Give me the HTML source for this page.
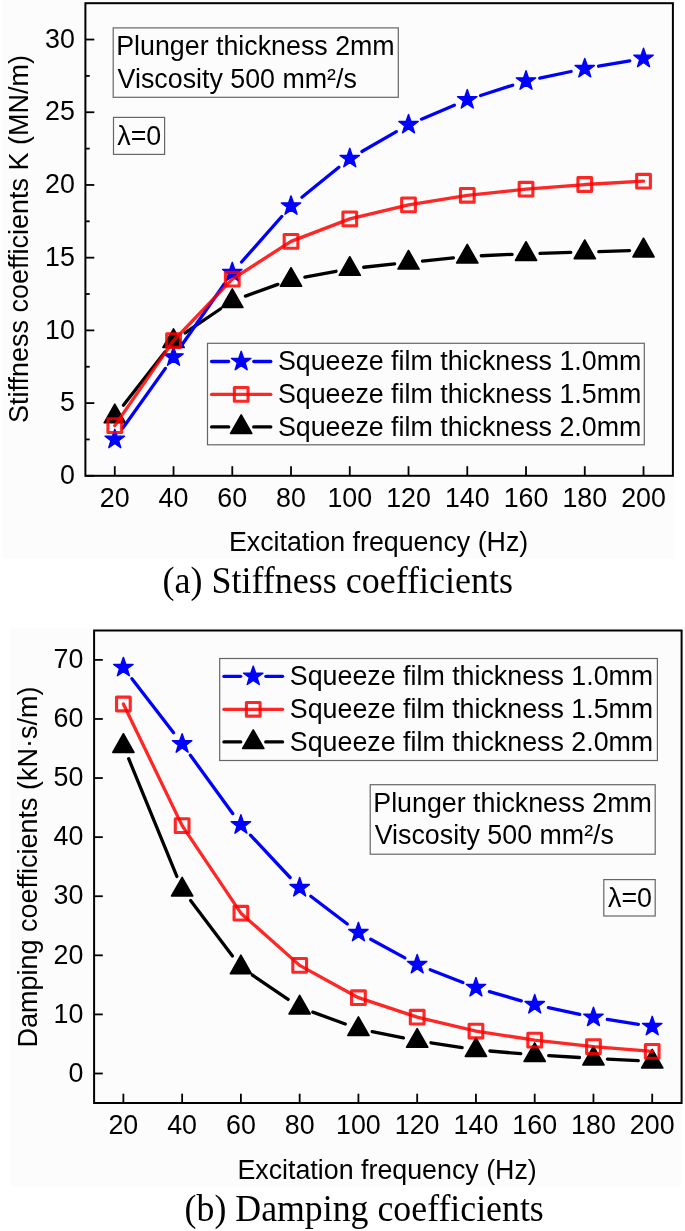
<!DOCTYPE html>
<html><head><meta charset="utf-8"><title>Stiffness and damping coefficients</title>
<style>html,body{margin:0;padding:0;background:#fff;}svg{display:block;will-change:transform;}</style></head>
<body><svg width="685" height="1231" viewBox="0 0 685 1231">
<rect x="0" y="0" width="685" height="1231" fill="#ffffff"/>
<rect x="2" y="0" width="672" height="558.5" fill="#fcfcfc"/>
<rect x="10" y="628.5" width="671.5" height="557.5" fill="#fcfcfc"/>
<g stroke="#000000" stroke-width="3.3" stroke-linecap="round"><line x1="123.38" y1="405.14" x2="164.92" y2="351.89"/><line x1="185.10" y1="332.97" x2="220.70" y2="308.74"/><line x1="245.44" y1="296.10" x2="277.86" y2="284.39"/><line x1="304.79" y1="277.07" x2="336.01" y2="271.28"/><line x1="363.70" y1="267.24" x2="394.60" y2="263.95"/><line x1="422.45" y1="261.02" x2="453.35" y2="257.81"/><line x1="481.26" y1="255.74" x2="512.04" y2="254.37"/><line x1="540.02" y1="253.33" x2="570.78" y2="252.41"/><line x1="598.77" y1="251.58" x2="629.53" y2="250.67"/></g>
<polygon points="114.78,404.18 125.38,422.78 104.18,422.78" fill="#000000" stroke="#000000" stroke-width="1.6" stroke-linejoin="round"/>
<polygon points="173.53,328.85 184.12,347.45 162.93,347.45" fill="#000000" stroke="#000000" stroke-width="1.6" stroke-linejoin="round"/>
<polygon points="232.28,288.86 242.88,307.46 221.68,307.46" fill="#000000" stroke="#000000" stroke-width="1.6" stroke-linejoin="round"/>
<polygon points="291.02,267.63 301.62,286.23 280.42,286.23" fill="#000000" stroke="#000000" stroke-width="1.6" stroke-linejoin="round"/>
<polygon points="349.77,256.72 360.38,275.32 339.17,275.32" fill="#000000" stroke="#000000" stroke-width="1.6" stroke-linejoin="round"/>
<polygon points="408.52,250.47 419.12,269.07 397.92,269.07" fill="#000000" stroke="#000000" stroke-width="1.6" stroke-linejoin="round"/>
<polygon points="467.27,244.36 477.88,262.96 456.67,262.96" fill="#000000" stroke="#000000" stroke-width="1.6" stroke-linejoin="round"/>
<polygon points="526.02,241.74 536.62,260.34 515.42,260.34" fill="#000000" stroke="#000000" stroke-width="1.6" stroke-linejoin="round"/>
<polygon points="584.77,240.00 595.38,258.60 574.17,258.60" fill="#000000" stroke="#000000" stroke-width="1.6" stroke-linejoin="round"/>
<polygon points="643.52,238.25 654.12,256.85 632.92,256.85" fill="#000000" stroke="#000000" stroke-width="1.6" stroke-linejoin="round"/>
<g stroke="#0000ff" stroke-width="3.3" stroke-linecap="round"><line x1="122.90" y1="428.04" x2="165.40" y2="368.39"/><line x1="181.52" y1="345.50" x2="224.28" y2="284.00"/><line x1="241.55" y1="262.01" x2="281.75" y2="216.53"/><line x1="301.91" y1="197.24" x2="338.89" y2="167.30"/><line x1="361.90" y1="151.50" x2="396.40" y2="131.61"/><line x1="421.42" y1="119.15" x2="454.38" y2="105.20"/><line x1="480.61" y1="95.49" x2="512.69" y2="85.24"/><line x1="539.73" y1="78.10" x2="571.07" y2="71.51"/><line x1="598.57" y1="66.23" x2="629.73" y2="60.83"/></g>
<polygon points="114.78,429.25 117.17,436.14 124.48,436.29 118.66,440.71 120.77,447.70 114.78,443.52 108.78,447.70 110.89,440.71 105.07,436.29 112.38,436.14" fill="#0000ff" stroke="#0000ff" stroke-width="1.4" stroke-linejoin="round"/>
<polygon points="173.53,346.79 175.92,353.69 183.23,353.84 177.41,358.25 179.52,365.24 173.53,361.07 167.53,365.24 169.64,358.25 163.82,353.84 171.13,353.69" fill="#0000ff" stroke="#0000ff" stroke-width="1.4" stroke-linejoin="round"/>
<polygon points="232.28,262.30 234.67,269.20 241.98,269.35 236.16,273.76 238.27,280.75 232.28,276.58 226.28,280.75 228.39,273.76 222.57,269.35 229.88,269.20" fill="#0000ff" stroke="#0000ff" stroke-width="1.4" stroke-linejoin="round"/>
<polygon points="291.02,195.85 293.42,202.75 300.73,202.89 294.91,207.31 297.02,214.30 291.02,210.13 285.03,214.30 287.14,207.31 281.32,202.89 288.63,202.75" fill="#0000ff" stroke="#0000ff" stroke-width="1.4" stroke-linejoin="round"/>
<polygon points="349.77,148.29 352.17,155.19 359.48,155.34 353.66,159.75 355.77,166.75 349.77,162.57 343.78,166.75 345.89,159.75 340.07,155.34 347.38,155.19" fill="#0000ff" stroke="#0000ff" stroke-width="1.4" stroke-linejoin="round"/>
<polygon points="408.52,114.41 410.92,121.31 418.23,121.46 412.41,125.87 414.52,132.86 408.52,128.69 402.53,132.86 404.64,125.87 398.82,121.46 406.13,121.31" fill="#0000ff" stroke="#0000ff" stroke-width="1.4" stroke-linejoin="round"/>
<polygon points="467.27,89.54 469.67,96.44 476.98,96.59 471.16,101.00 473.27,108.00 467.27,103.82 461.28,108.00 463.39,101.00 457.57,96.59 464.88,96.44" fill="#0000ff" stroke="#0000ff" stroke-width="1.4" stroke-linejoin="round"/>
<polygon points="526.02,70.78 528.42,77.68 535.73,77.83 529.91,82.25 532.02,89.24 526.02,85.06 520.03,89.24 522.14,82.25 516.32,77.83 523.63,77.68" fill="#0000ff" stroke="#0000ff" stroke-width="1.4" stroke-linejoin="round"/>
<polygon points="584.77,58.42 587.17,65.32 594.48,65.47 588.66,69.88 590.77,76.88 584.77,72.70 578.78,76.88 580.89,69.88 575.07,65.47 582.38,65.32" fill="#0000ff" stroke="#0000ff" stroke-width="1.4" stroke-linejoin="round"/>
<polygon points="643.52,48.24 645.92,55.14 653.23,55.29 647.41,59.71 649.52,66.70 643.52,62.52 637.53,66.70 639.64,59.71 633.82,55.29 641.13,55.14" fill="#0000ff" stroke="#0000ff" stroke-width="1.4" stroke-linejoin="round"/>
<polyline points="114.78,425.63 173.53,340.56 232.28,279.19 291.02,241.38 349.77,218.84 408.52,204.88 467.27,195.28 526.02,189.18 584.77,184.52 643.52,181.18" fill="none" stroke="#ff0000" stroke-opacity="0.85" stroke-width="3.3" stroke-linejoin="round" stroke-linecap="round"/>
<rect x="107.93" y="418.78" width="13.70" height="13.70" fill="none" stroke="#ff0000" stroke-opacity="0.85" stroke-width="3.1" stroke-linejoin="round"/>
<rect x="166.68" y="333.71" width="13.70" height="13.70" fill="none" stroke="#ff0000" stroke-opacity="0.85" stroke-width="3.1" stroke-linejoin="round"/>
<rect x="225.43" y="272.34" width="13.70" height="13.70" fill="none" stroke="#ff0000" stroke-opacity="0.85" stroke-width="3.1" stroke-linejoin="round"/>
<rect x="284.17" y="234.53" width="13.70" height="13.70" fill="none" stroke="#ff0000" stroke-opacity="0.85" stroke-width="3.1" stroke-linejoin="round"/>
<rect x="342.92" y="211.99" width="13.70" height="13.70" fill="none" stroke="#ff0000" stroke-opacity="0.85" stroke-width="3.1" stroke-linejoin="round"/>
<rect x="401.67" y="198.03" width="13.70" height="13.70" fill="none" stroke="#ff0000" stroke-opacity="0.85" stroke-width="3.1" stroke-linejoin="round"/>
<rect x="460.42" y="188.43" width="13.70" height="13.70" fill="none" stroke="#ff0000" stroke-opacity="0.85" stroke-width="3.1" stroke-linejoin="round"/>
<rect x="519.17" y="182.33" width="13.70" height="13.70" fill="none" stroke="#ff0000" stroke-opacity="0.85" stroke-width="3.1" stroke-linejoin="round"/>
<rect x="577.92" y="177.67" width="13.70" height="13.70" fill="none" stroke="#ff0000" stroke-opacity="0.85" stroke-width="3.1" stroke-linejoin="round"/>
<rect x="636.67" y="174.33" width="13.70" height="13.70" fill="none" stroke="#ff0000" stroke-opacity="0.85" stroke-width="3.1" stroke-linejoin="round"/>
<rect x="85.4" y="3.2" width="587.50" height="472.60" fill="none" stroke="#000" stroke-width="2"/>
<g stroke="#000" stroke-width="1.8"><line x1="85.4" y1="475.80" x2="94.30000000000001" y2="475.80"/><line x1="85.4" y1="403.09" x2="94.30000000000001" y2="403.09"/><line x1="85.4" y1="330.38" x2="94.30000000000001" y2="330.38"/><line x1="85.4" y1="257.67" x2="94.30000000000001" y2="257.67"/><line x1="85.4" y1="184.96" x2="94.30000000000001" y2="184.96"/><line x1="85.4" y1="112.25" x2="94.30000000000001" y2="112.25"/><line x1="85.4" y1="39.54" x2="94.30000000000001" y2="39.54"/><line x1="85.4" y1="439.44" x2="89.7" y2="439.44"/><line x1="85.4" y1="366.74" x2="89.7" y2="366.74"/><line x1="85.4" y1="294.02" x2="89.7" y2="294.02"/><line x1="85.4" y1="221.32" x2="89.7" y2="221.32"/><line x1="85.4" y1="148.61" x2="89.7" y2="148.61"/><line x1="85.4" y1="75.90" x2="89.7" y2="75.90"/><line x1="114.78" y1="475.8" x2="114.78" y2="466.2"/><line x1="173.53" y1="475.8" x2="173.53" y2="466.2"/><line x1="232.28" y1="475.8" x2="232.28" y2="466.2"/><line x1="291.02" y1="475.8" x2="291.02" y2="466.2"/><line x1="349.77" y1="475.8" x2="349.77" y2="466.2"/><line x1="408.52" y1="475.8" x2="408.52" y2="466.2"/><line x1="467.27" y1="475.8" x2="467.27" y2="466.2"/><line x1="526.02" y1="475.8" x2="526.02" y2="466.2"/><line x1="584.77" y1="475.8" x2="584.77" y2="466.2"/><line x1="643.52" y1="475.8" x2="643.52" y2="466.2"/></g>
<text x="74.80" y="484.00" font-family='"Liberation Sans", sans-serif' font-size="26.8" text-anchor="end" >0</text>
<text x="74.80" y="411.29" font-family='"Liberation Sans", sans-serif' font-size="26.8" text-anchor="end" >5</text>
<text x="74.80" y="338.58" font-family='"Liberation Sans", sans-serif' font-size="26.8" text-anchor="end" >10</text>
<text x="74.80" y="265.87" font-family='"Liberation Sans", sans-serif' font-size="26.8" text-anchor="end" >15</text>
<text x="74.80" y="193.16" font-family='"Liberation Sans", sans-serif' font-size="26.8" text-anchor="end" >20</text>
<text x="74.80" y="120.45" font-family='"Liberation Sans", sans-serif' font-size="26.8" text-anchor="end" >25</text>
<text x="74.80" y="47.74" font-family='"Liberation Sans", sans-serif' font-size="26.8" text-anchor="end" >30</text>
<text x="114.78" y="507.20" font-family='"Liberation Sans", sans-serif' font-size="26.8" text-anchor="middle" >20</text>
<text x="173.53" y="507.20" font-family='"Liberation Sans", sans-serif' font-size="26.8" text-anchor="middle" >40</text>
<text x="232.28" y="507.20" font-family='"Liberation Sans", sans-serif' font-size="26.8" text-anchor="middle" >60</text>
<text x="291.02" y="507.20" font-family='"Liberation Sans", sans-serif' font-size="26.8" text-anchor="middle" >80</text>
<text x="349.77" y="507.20" font-family='"Liberation Sans", sans-serif' font-size="26.8" text-anchor="middle" >100</text>
<text x="408.52" y="507.20" font-family='"Liberation Sans", sans-serif' font-size="26.8" text-anchor="middle" >120</text>
<text x="467.27" y="507.20" font-family='"Liberation Sans", sans-serif' font-size="26.8" text-anchor="middle" >140</text>
<text x="526.02" y="507.20" font-family='"Liberation Sans", sans-serif' font-size="26.8" text-anchor="middle" >160</text>
<text x="584.77" y="507.20" font-family='"Liberation Sans", sans-serif' font-size="26.8" text-anchor="middle" >180</text>
<text x="643.52" y="507.20" font-family='"Liberation Sans", sans-serif' font-size="26.8" text-anchor="middle" >200</text>
<rect x="113.2" y="27.9" width="285.10" height="69.40" fill="none" stroke="#666666" stroke-width="1.2"/>
<text x="116.20" y="55.20" font-family='"Liberation Sans", sans-serif' font-size="26.8" text-anchor="start" >Plunger thickness 2mm</text>
<text x="117.60" y="87.90" font-family='"Liberation Sans", sans-serif' font-size="26.8" text-anchor="start" >Viscosity 500 mm²/s</text>
<rect x="113.5" y="117.4" width="51.10" height="37.00" fill="none" stroke="#666666" stroke-width="1.2"/>
<text x="117.30" y="144.70" font-family='"Liberation Sans", sans-serif' font-size="26.8" text-anchor="start" >λ=0</text>
<rect x="207.5" y="343.3" width="436.80" height="101.50" fill="none" stroke="#666666" stroke-width="1.2"/>
<g stroke="#0000ff" stroke-width="3.3" stroke-linecap="round"><line x1="211.6" y1="361.5" x2="228.60" y2="361.5"/><line x1="253.80" y1="361.5" x2="270.8" y2="361.5"/></g>
<polygon points="241.20,351.30 243.60,358.20 250.90,358.35 245.08,362.76 247.20,369.75 241.20,365.58 235.20,369.75 237.32,362.76 231.50,358.35 238.80,358.20" fill="#0000ff" stroke="#0000ff" stroke-width="1.4" stroke-linejoin="round"/>
<line x1="211.6" y1="394.4" x2="270.8" y2="394.4" stroke="#ff0000" stroke-opacity="0.85" stroke-width="3.3" stroke-linecap="round"/>
<rect x="234.35" y="387.55" width="13.70" height="13.70" fill="none" stroke="#ff0000" stroke-opacity="0.85" stroke-width="3.1" stroke-linejoin="round"/>
<g stroke="#000000" stroke-width="3.3" stroke-linecap="round"><line x1="211.6" y1="426.9" x2="228.70" y2="426.9"/><line x1="253.70" y1="426.9" x2="270.8" y2="426.9"/></g>
<polygon points="241.20,414.90 251.80,433.50 230.60,433.50" fill="#000000" stroke="#000000" stroke-width="1.6" stroke-linejoin="round"/>
<text x="277.90" y="370.30" font-family='"Liberation Sans", sans-serif' font-size="26.8" text-anchor="start" >Squeeze film thickness 1.0mm</text>
<text x="277.90" y="403.20" font-family='"Liberation Sans", sans-serif' font-size="26.8" text-anchor="start" >Squeeze film thickness 1.5mm</text>
<text x="277.90" y="435.70" font-family='"Liberation Sans", sans-serif' font-size="26.8" text-anchor="start" >Squeeze film thickness 2.0mm</text>
<text x="228.90" y="551.30" font-family='"Liberation Sans", sans-serif' font-size="26.8" text-anchor="start" >Excitation frequency (Hz)</text>
<text x="28.00" y="239.00" font-family='"Liberation Sans", sans-serif' font-size="27" text-anchor="middle" transform="rotate(-90 28.0 239)">Stiffness coefficients K (MN/m)</text>
<text x="0.00" y="0.00" font-family='"Liberation Serif", serif' font-size="36" text-anchor="start" transform="translate(162.6 592.5) scale(1 1.045)">(a) Stiffness coefficients</text>
<g stroke="#000000" stroke-width="3.3" stroke-linecap="round"><line x1="128.68" y1="758.69" x2="176.84" y2="876.42"/><line x1="190.58" y1="900.55" x2="232.46" y2="956.02"/><line x1="252.46" y1="975.09" x2="288.10" y2="999.42"/><line x1="312.81" y1="1012.13" x2="345.27" y2="1024.02"/><line x1="372.15" y1="1031.58" x2="403.45" y2="1037.84"/><line x1="431.01" y1="1042.76" x2="462.11" y2="1047.64"/><line x1="489.89" y1="1051.01" x2="520.75" y2="1053.68"/><line x1="548.68" y1="1055.70" x2="579.48" y2="1057.50"/><line x1="607.44" y1="1059.04" x2="638.24" y2="1060.66"/></g>
<polygon points="123.38,733.73 133.98,752.33 112.78,752.33" fill="#000000" stroke="#000000" stroke-width="1.6" stroke-linejoin="round"/>
<polygon points="182.14,877.38 192.74,895.98 171.54,895.98" fill="#000000" stroke="#000000" stroke-width="1.6" stroke-linejoin="round"/>
<polygon points="240.90,955.20 251.50,973.80 230.30,973.80" fill="#000000" stroke="#000000" stroke-width="1.6" stroke-linejoin="round"/>
<polygon points="299.66,995.32 310.26,1013.92 289.06,1013.92" fill="#000000" stroke="#000000" stroke-width="1.6" stroke-linejoin="round"/>
<polygon points="358.42,1016.83 369.02,1035.43 347.82,1035.43" fill="#000000" stroke="#000000" stroke-width="1.6" stroke-linejoin="round"/>
<polygon points="417.18,1028.59 427.78,1047.19 406.58,1047.19" fill="#000000" stroke="#000000" stroke-width="1.6" stroke-linejoin="round"/>
<polygon points="475.94,1037.80 486.54,1056.40 465.34,1056.40" fill="#000000" stroke="#000000" stroke-width="1.6" stroke-linejoin="round"/>
<polygon points="534.70,1042.89 545.30,1061.49 524.10,1061.49" fill="#000000" stroke="#000000" stroke-width="1.6" stroke-linejoin="round"/>
<polygon points="593.46,1046.31 604.06,1064.91 582.86,1064.91" fill="#000000" stroke="#000000" stroke-width="1.6" stroke-linejoin="round"/>
<polygon points="652.22,1049.39 662.82,1067.99 641.62,1067.99" fill="#000000" stroke="#000000" stroke-width="1.6" stroke-linejoin="round"/>
<g stroke="#0000ff" stroke-width="3.3" stroke-linecap="round"><line x1="131.92" y1="678.65" x2="173.60" y2="732.80"/><line x1="190.36" y1="755.23" x2="232.68" y2="813.58"/><line x1="250.46" y1="835.13" x2="290.10" y2="877.50"/><line x1="310.79" y1="896.21" x2="347.29" y2="924.02"/><line x1="370.71" y1="939.22" x2="404.89" y2="957.89"/><line x1="430.21" y1="969.72" x2="462.91" y2="982.58"/><line x1="489.39" y1="991.60" x2="521.25" y2="1000.82"/><line x1="548.39" y1="1007.65" x2="579.77" y2="1014.37"/><line x1="607.29" y1="1019.48" x2="638.39" y2="1024.35"/></g>
<polygon points="123.38,657.35 125.78,664.25 133.08,664.40 127.26,668.81 129.38,675.80 123.38,671.63 117.38,675.80 119.50,668.81 113.68,664.40 120.98,664.25" fill="#0000ff" stroke="#0000ff" stroke-width="1.4" stroke-linejoin="round"/>
<polygon points="182.14,733.70 184.54,740.60 191.84,740.74 186.02,745.16 188.14,752.15 182.14,747.98 176.14,752.15 178.26,745.16 172.44,740.74 179.74,740.60" fill="#0000ff" stroke="#0000ff" stroke-width="1.4" stroke-linejoin="round"/>
<polygon points="240.90,814.71 243.30,821.61 250.60,821.76 244.78,826.17 246.90,833.16 240.90,828.99 234.90,833.16 237.02,826.17 231.20,821.76 238.50,821.61" fill="#0000ff" stroke="#0000ff" stroke-width="1.4" stroke-linejoin="round"/>
<polygon points="299.66,877.52 302.06,884.42 309.36,884.57 303.54,888.98 305.66,895.97 299.66,891.80 293.66,895.97 295.78,888.98 289.96,884.57 297.26,884.42" fill="#0000ff" stroke="#0000ff" stroke-width="1.4" stroke-linejoin="round"/>
<polygon points="358.42,922.31 360.82,929.21 368.12,929.36 362.30,933.77 364.42,940.76 358.42,936.59 352.42,940.76 354.54,933.77 348.72,929.36 356.02,929.21" fill="#0000ff" stroke="#0000ff" stroke-width="1.4" stroke-linejoin="round"/>
<polygon points="417.18,954.40 419.58,961.30 426.88,961.45 421.06,965.86 423.18,972.85 417.18,968.68 411.18,972.85 413.30,965.86 407.48,961.45 414.78,961.30" fill="#0000ff" stroke="#0000ff" stroke-width="1.4" stroke-linejoin="round"/>
<polygon points="475.94,977.50 478.34,984.40 485.64,984.55 479.82,988.96 481.94,995.95 475.94,991.78 469.94,995.95 472.06,988.96 466.24,984.55 473.54,984.40" fill="#0000ff" stroke="#0000ff" stroke-width="1.4" stroke-linejoin="round"/>
<polygon points="534.70,994.52 537.10,1001.42 544.40,1001.57 538.58,1005.98 540.70,1012.97 534.70,1008.80 528.70,1012.97 530.82,1005.98 525.00,1001.57 532.30,1001.42" fill="#0000ff" stroke="#0000ff" stroke-width="1.4" stroke-linejoin="round"/>
<polygon points="593.46,1007.11 595.86,1014.00 603.16,1014.15 597.34,1018.57 599.46,1025.56 593.46,1021.39 587.46,1025.56 589.58,1018.57 583.76,1014.15 591.06,1014.00" fill="#0000ff" stroke="#0000ff" stroke-width="1.4" stroke-linejoin="round"/>
<polygon points="652.22,1016.32 654.62,1023.22 661.92,1023.37 656.10,1027.78 658.22,1034.78 652.22,1030.60 646.22,1034.78 648.34,1027.78 642.52,1023.37 649.82,1023.22" fill="#0000ff" stroke="#0000ff" stroke-width="1.4" stroke-linejoin="round"/>
<polyline points="123.38,704.01 182.14,825.62 240.90,913.19 299.66,965.37 358.42,997.69 417.18,1017.19 475.94,1031.07 534.70,1040.11 593.46,1046.67 652.22,1051.40" fill="none" stroke="#ff0000" stroke-opacity="0.85" stroke-width="3.3" stroke-linejoin="round" stroke-linecap="round"/>
<rect x="116.53" y="697.16" width="13.70" height="13.70" fill="none" stroke="#ff0000" stroke-opacity="0.85" stroke-width="3.1" stroke-linejoin="round"/>
<rect x="175.29" y="818.77" width="13.70" height="13.70" fill="none" stroke="#ff0000" stroke-opacity="0.85" stroke-width="3.1" stroke-linejoin="round"/>
<rect x="234.05" y="906.34" width="13.70" height="13.70" fill="none" stroke="#ff0000" stroke-opacity="0.85" stroke-width="3.1" stroke-linejoin="round"/>
<rect x="292.81" y="958.52" width="13.70" height="13.70" fill="none" stroke="#ff0000" stroke-opacity="0.85" stroke-width="3.1" stroke-linejoin="round"/>
<rect x="351.57" y="990.84" width="13.70" height="13.70" fill="none" stroke="#ff0000" stroke-opacity="0.85" stroke-width="3.1" stroke-linejoin="round"/>
<rect x="410.33" y="1010.34" width="13.70" height="13.70" fill="none" stroke="#ff0000" stroke-opacity="0.85" stroke-width="3.1" stroke-linejoin="round"/>
<rect x="469.09" y="1024.22" width="13.70" height="13.70" fill="none" stroke="#ff0000" stroke-opacity="0.85" stroke-width="3.1" stroke-linejoin="round"/>
<rect x="527.85" y="1033.26" width="13.70" height="13.70" fill="none" stroke="#ff0000" stroke-opacity="0.85" stroke-width="3.1" stroke-linejoin="round"/>
<rect x="586.61" y="1039.82" width="13.70" height="13.70" fill="none" stroke="#ff0000" stroke-opacity="0.85" stroke-width="3.1" stroke-linejoin="round"/>
<rect x="645.37" y="1044.55" width="13.70" height="13.70" fill="none" stroke="#ff0000" stroke-opacity="0.85" stroke-width="3.1" stroke-linejoin="round"/>
<rect x="94.1" y="630.5" width="587.50" height="472.50" fill="none" stroke="#000" stroke-width="2"/>
<g stroke="#000" stroke-width="1.8"><line x1="94.1" y1="1073.50" x2="102.8" y2="1073.50"/><line x1="94.1" y1="1014.41" x2="102.8" y2="1014.41"/><line x1="94.1" y1="955.32" x2="102.8" y2="955.32"/><line x1="94.1" y1="896.23" x2="102.8" y2="896.23"/><line x1="94.1" y1="837.14" x2="102.8" y2="837.14"/><line x1="94.1" y1="778.05" x2="102.8" y2="778.05"/><line x1="94.1" y1="718.96" x2="102.8" y2="718.96"/><line x1="94.1" y1="659.87" x2="102.8" y2="659.87"/><line x1="123.38" y1="1103.0" x2="123.38" y2="1093.7"/><line x1="182.14" y1="1103.0" x2="182.14" y2="1093.7"/><line x1="240.90" y1="1103.0" x2="240.90" y2="1093.7"/><line x1="299.66" y1="1103.0" x2="299.66" y2="1093.7"/><line x1="358.42" y1="1103.0" x2="358.42" y2="1093.7"/><line x1="417.18" y1="1103.0" x2="417.18" y2="1093.7"/><line x1="475.94" y1="1103.0" x2="475.94" y2="1093.7"/><line x1="534.70" y1="1103.0" x2="534.70" y2="1093.7"/><line x1="593.46" y1="1103.0" x2="593.46" y2="1093.7"/><line x1="652.22" y1="1103.0" x2="652.22" y2="1093.7"/></g>
<text x="83.40" y="1081.70" font-family='"Liberation Sans", sans-serif' font-size="26.8" text-anchor="end" >0</text>
<text x="83.40" y="1022.61" font-family='"Liberation Sans", sans-serif' font-size="26.8" text-anchor="end" >10</text>
<text x="83.40" y="963.52" font-family='"Liberation Sans", sans-serif' font-size="26.8" text-anchor="end" >20</text>
<text x="83.40" y="904.43" font-family='"Liberation Sans", sans-serif' font-size="26.8" text-anchor="end" >30</text>
<text x="83.40" y="845.34" font-family='"Liberation Sans", sans-serif' font-size="26.8" text-anchor="end" >40</text>
<text x="83.40" y="786.25" font-family='"Liberation Sans", sans-serif' font-size="26.8" text-anchor="end" >50</text>
<text x="83.40" y="727.16" font-family='"Liberation Sans", sans-serif' font-size="26.8" text-anchor="end" >60</text>
<text x="83.40" y="668.07" font-family='"Liberation Sans", sans-serif' font-size="26.8" text-anchor="end" >70</text>
<text x="123.38" y="1134.00" font-family='"Liberation Sans", sans-serif' font-size="26.8" text-anchor="middle" >20</text>
<text x="182.14" y="1134.00" font-family='"Liberation Sans", sans-serif' font-size="26.8" text-anchor="middle" >40</text>
<text x="240.90" y="1134.00" font-family='"Liberation Sans", sans-serif' font-size="26.8" text-anchor="middle" >60</text>
<text x="299.66" y="1134.00" font-family='"Liberation Sans", sans-serif' font-size="26.8" text-anchor="middle" >80</text>
<text x="358.42" y="1134.00" font-family='"Liberation Sans", sans-serif' font-size="26.8" text-anchor="middle" >100</text>
<text x="417.18" y="1134.00" font-family='"Liberation Sans", sans-serif' font-size="26.8" text-anchor="middle" >120</text>
<text x="475.94" y="1134.00" font-family='"Liberation Sans", sans-serif' font-size="26.8" text-anchor="middle" >140</text>
<text x="534.70" y="1134.00" font-family='"Liberation Sans", sans-serif' font-size="26.8" text-anchor="middle" >160</text>
<text x="593.46" y="1134.00" font-family='"Liberation Sans", sans-serif' font-size="26.8" text-anchor="middle" >180</text>
<text x="652.22" y="1134.00" font-family='"Liberation Sans", sans-serif' font-size="26.8" text-anchor="middle" >200</text>
<rect x="370.2" y="784.7" width="285.00" height="69.50" fill="none" stroke="#666666" stroke-width="1.2"/>
<text x="373.30" y="811.80" font-family='"Liberation Sans", sans-serif' font-size="26.8" text-anchor="start" >Plunger thickness 2mm</text>
<text x="374.70" y="844.20" font-family='"Liberation Sans", sans-serif' font-size="26.8" text-anchor="start" >Viscosity 500 mm²/s</text>
<rect x="603.8" y="879.6" width="51.40" height="36.40" fill="none" stroke="#666666" stroke-width="1.2"/>
<text x="608.00" y="906.70" font-family='"Liberation Sans", sans-serif' font-size="26.8" text-anchor="start" >λ=0</text>
<rect x="219.7" y="658.5" width="437.70" height="102.00" fill="none" stroke="#666666" stroke-width="1.2"/>
<g stroke="#0000ff" stroke-width="3.3" stroke-linecap="round"><line x1="223.9" y1="676.3" x2="240.65" y2="676.3"/><line x1="265.85" y1="676.3" x2="282.6" y2="676.3"/></g>
<polygon points="253.25,666.10 255.65,673.00 262.95,673.15 257.13,677.56 259.25,684.55 253.25,680.38 247.25,684.55 249.37,677.56 243.55,673.15 250.85,673.00" fill="#0000ff" stroke="#0000ff" stroke-width="1.4" stroke-linejoin="round"/>
<line x1="223.9" y1="709.3" x2="282.6" y2="709.3" stroke="#ff0000" stroke-opacity="0.85" stroke-width="3.3" stroke-linecap="round"/>
<rect x="246.40" y="702.45" width="13.70" height="13.70" fill="none" stroke="#ff0000" stroke-opacity="0.85" stroke-width="3.1" stroke-linejoin="round"/>
<g stroke="#000000" stroke-width="3.3" stroke-linecap="round"><line x1="223.9" y1="741.9" x2="240.75" y2="741.9"/><line x1="265.75" y1="741.9" x2="282.6" y2="741.9"/></g>
<polygon points="253.25,729.90 263.85,748.50 242.65,748.50" fill="#000000" stroke="#000000" stroke-width="1.6" stroke-linejoin="round"/>
<text x="289.80" y="685.10" font-family='"Liberation Sans", sans-serif' font-size="26.8" text-anchor="start" >Squeeze film thickness 1.0mm</text>
<text x="289.80" y="718.10" font-family='"Liberation Sans", sans-serif' font-size="26.8" text-anchor="start" >Squeeze film thickness 1.5mm</text>
<text x="289.80" y="750.70" font-family='"Liberation Sans", sans-serif' font-size="26.8" text-anchor="start" >Squeeze film thickness 2.0mm</text>
<text x="237.40" y="1178.50" font-family='"Liberation Sans", sans-serif' font-size="26.8" text-anchor="start" >Excitation frequency (Hz)</text>
<text x="37.20" y="867.00" font-family='"Liberation Sans", sans-serif' font-size="27" text-anchor="middle" transform="rotate(-90 37.2 867)">Damping coefficients (kN·s/m)</text>
<text x="0.00" y="0.00" font-family='"Liberation Serif", serif' font-size="35.8" text-anchor="start" transform="translate(184.6 1220.7) scale(1 1.045)">(b) Damping coefficients</text>
</svg></body></html>
